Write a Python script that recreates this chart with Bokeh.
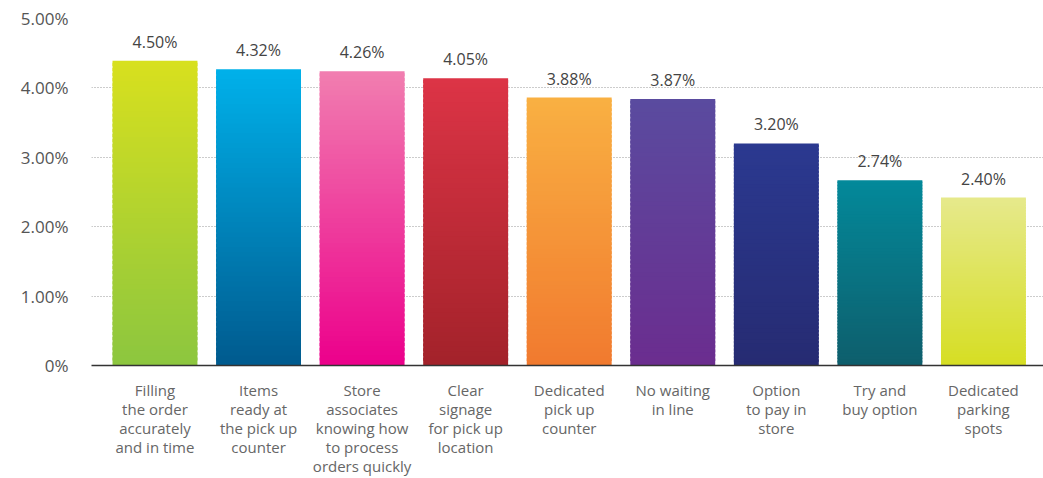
import numpy as np
from bokeh.plotting import figure
from bokeh.models import Range1d, FixedTicker, ColumnDataSource
from bokeh.core.properties import value
from bokeh.embed import file_html
from bokeh.resources import INLINE

# ---- data ----
categories = [
    "Filling\nthe order\naccurately\nand in time",
    "Items\nready at\nthe pick up\ncounter",
    "Store\nassociates\nknowing how\nto process\norders quickly",
    "Clear\nsignage\nfor pick up\nlocation",
    "Dedicated\npick up\ncounter",
    "No waiting\nin line",
    "Option\nto pay in\nstore",
    "Try and\nbuy option",
    "Dedicated\nparking\nspots",
]
bar_heights = [4.39, 4.27, 4.24, 4.14, 3.86, 3.84, 3.20, 2.67, 2.42]
value_labels = ["4.50%", "4.32%", "4.26%", "4.05%", "3.88%", "3.87%", "3.20%", "2.74%", "2.40%"]
y_ticks = [0, 1, 2, 3, 4, 5]
y_tick_labels = ["0%", "1.00%", "2.00%", "3.00%", "4.00%", "5.00%"]

top_colors = ["#d8e01e", "#00b1ea", "#f17eb0", "#dc3446", "#f9b042", "#5a4b9f", "#2b3990", "#03899a", "#e6e98c"]
bottom_colors = ["#8cc63f", "#005a8e", "#ec008b", "#a3222a", "#f17a2f", "#6b2d8f", "#262b72", "#0e5e6c", "#d6de23"]

FONT = "Open Sans"


def hex_to_rgb(h):
    h = h.lstrip("#")
    return np.array([int(h[i:i + 2], 16) for i in (0, 2, 4)], dtype=float)


def rgb_to_hex(c):
    return "#%02x%02x%02x" % tuple(int(round(v)) for v in c)


p = figure(
    width=1043, height=478, output_backend="svg", toolbar_location=None,
    x_range=Range1d(-0.613, 8.58), y_range=Range1d(0, 5.0),
    min_border_left=91, min_border_right=0, min_border_top=18, min_border_bottom=112,
)
p.outline_line_color = None
p.background_fill_color = "white"

# gradient bars built from stacked slices
N = 60
xs, bottoms, tops, cols = [], [], [], []
bar_w = 0.82
for i, h in enumerate(bar_heights):
    ct = hex_to_rgb(top_colors[i])
    cb = hex_to_rgb(bottom_colors[i])
    for k in range(N):
        t = (k + 0.5) / N
        xs.append(i)
        bottoms.append(h * k / N)
        tops.append(h * (k + 1) / N + (h * 0.6 / N if k < N - 1 else 0))
        cols.append(rgb_to_hex(cb + (ct - cb) * t))

src = ColumnDataSource(dict(x=xs, bottom=bottoms, top=tops, color=cols))
p.vbar(x="x", bottom="bottom", top="top", width=bar_w, fill_color="color", line_color=None, source=src)

lab_src = ColumnDataSource(dict(x=list(range(len(bar_heights))), y=bar_heights, t=value_labels))
p.text(x="x", y="y", text="t", source=lab_src, text_align="center", text_baseline="bottom",
       y_offset=-8, text_font=value(FONT), text_font_size="16px", text_color="#444444")

# axes
p.xaxis.ticker = FixedTicker(ticks=list(range(len(categories))))
p.xaxis.major_label_overrides = {i: c for i, c in enumerate(categories)}
p.xaxis.major_tick_line_color = None
p.xaxis.minor_tick_line_color = None
p.xaxis.axis_line_color = "#333333"
p.xaxis.axis_line_width = 1.5
p.xaxis.major_label_standoff = 8
p.xaxis.major_label_text_font = FONT
p.xaxis.major_label_text_font_size = "15px"
p.xaxis.major_label_text_color = "#666666"
p.xaxis.major_label_text_line_height = 0.95

p.yaxis.ticker = FixedTicker(ticks=y_ticks)
p.yaxis.major_label_overrides = {t: l for t, l in zip(y_ticks, y_tick_labels)}
p.yaxis.axis_line_color = None
p.yaxis.major_tick_line_color = None
p.yaxis.minor_tick_line_color = None
p.yaxis.major_label_standoff = 17
p.yaxis.major_label_text_font = FONT
p.yaxis.major_label_text_font_size = "17px"
p.yaxis.major_label_text_color = "#555555"

p.xgrid.grid_line_color = None
p.ygrid.grid_line_color = "#999999"
p.ygrid.grid_line_dash = "1 2"
p.ygrid.grid_line_width = 1

open("out.html", "w").write(file_html(p, INLINE))
